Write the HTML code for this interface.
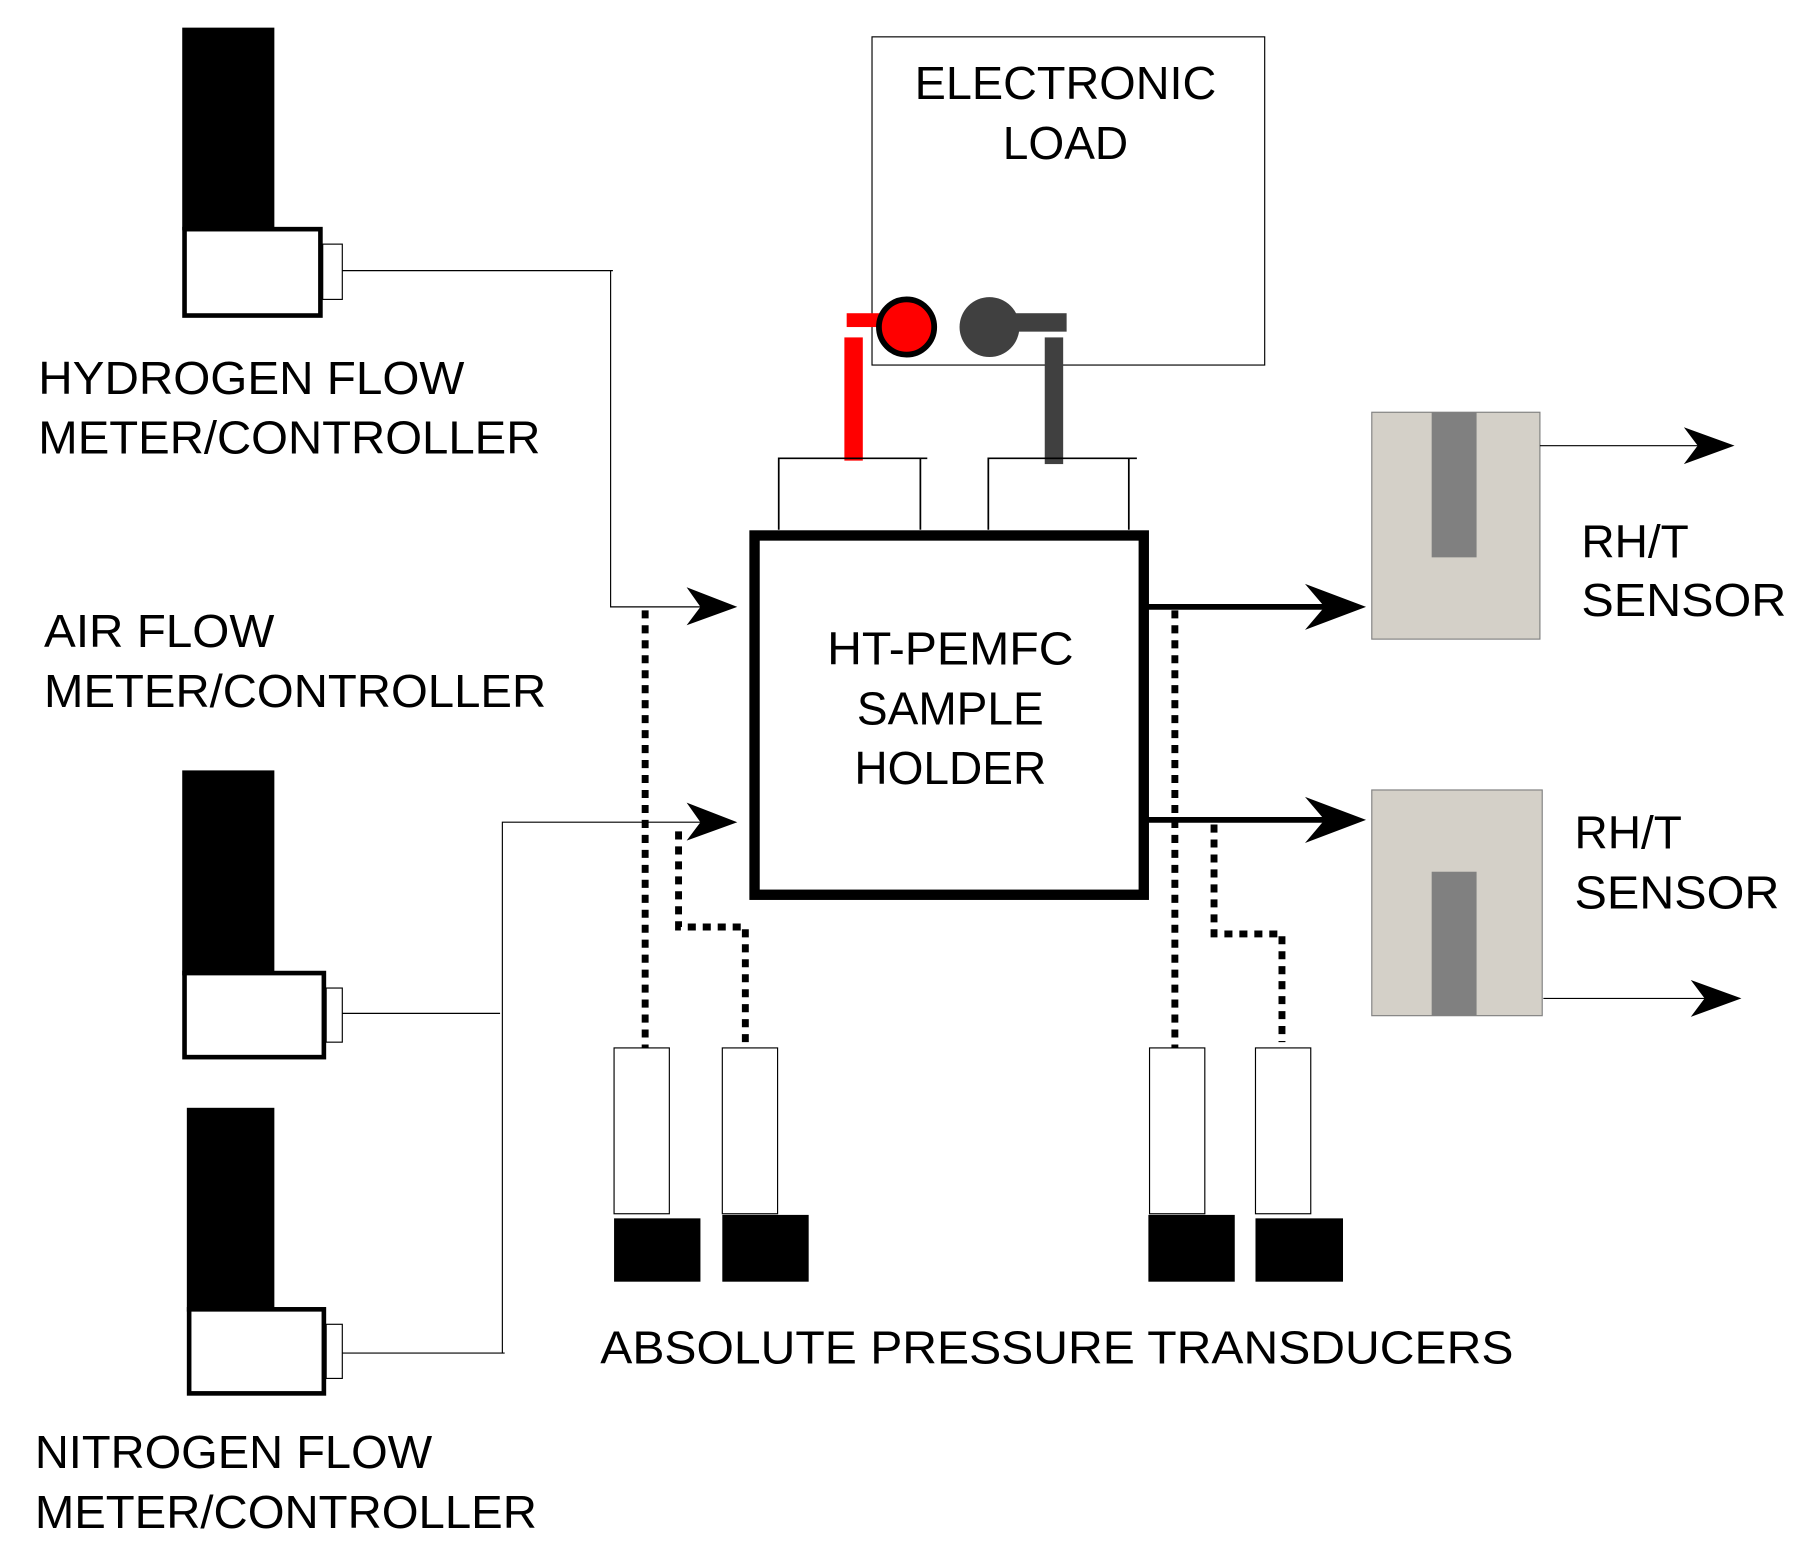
<!DOCTYPE html>
<html><head><meta charset="utf-8"><style>html,body{margin:0;padding:0;background:#fff}svg{display:block}</style></head>
<body>
<svg width="1797" height="1550" viewBox="0 0 1560 1346" xmlns="http://www.w3.org/2000/svg" font-family="Liberation Sans, sans-serif" font-size="40">
<rect width="1560" height="1346" fill="#fff"/>
<rect x="158" y="24" width="80" height="176" fill="#000"/>
<rect x="160" y="199" width="118" height="75" fill="#fff" stroke="#000" stroke-width="4"/>
<rect x="280" y="212" width="17" height="48" fill="#fff" stroke="#000" stroke-width="1"/>
<polyline points="297,235 532,235" fill="none" stroke="#000" stroke-width="1"/>
<polyline points="530,235 530,527 610,527" fill="none" stroke="#000" stroke-width="1"/>
<rect x="158" y="669" width="80" height="178" fill="#000"/>
<rect x="160" y="845" width="121" height="73" fill="#fff" stroke="#000" stroke-width="4"/>
<rect x="283" y="858" width="14" height="47" fill="#fff" stroke="#000" stroke-width="1"/>
<line x1="297" y1="880" x2="434" y2="880" stroke="#000" stroke-width="1"/>
<rect x="162" y="962" width="76" height="177" fill="#000"/>
<rect x="164" y="1137" width="117" height="73" fill="#fff" stroke="#000" stroke-width="4"/>
<rect x="283" y="1150" width="14" height="47" fill="#fff" stroke="#000" stroke-width="1"/>
<line x1="297" y1="1175" x2="438" y2="1175" stroke="#000" stroke-width="1"/>
<polyline points="436,1175 436,714 610,714" fill="none" stroke="#000" stroke-width="1"/>
<polygon points="640,527 596,510 608,527 596,543" fill="#000"/>
<polygon points="640,714 596,697 608,714 596,730" fill="#000"/>
<text x="33" y="342" textLength="370" lengthAdjust="spacingAndGlyphs">HYDROGEN FLOW</text>
<text x="33" y="394" textLength="436" lengthAdjust="spacingAndGlyphs">METER/CONTROLLER</text>
<text x="38" y="562" textLength="200" lengthAdjust="spacingAndGlyphs">AIR FLOW</text>
<text x="38" y="614" textLength="436" lengthAdjust="spacingAndGlyphs">METER/CONTROLLER</text>
<text x="30" y="1275" textLength="345" lengthAdjust="spacingAndGlyphs">NITROGEN FLOW</text>
<text x="30" y="1327" textLength="436" lengthAdjust="spacingAndGlyphs">METER/CONTROLLER</text>
<rect x="757" y="32" width="341" height="285" fill="none" stroke="#000" stroke-width="1"/>
<text x="925" y="86" text-anchor="middle" textLength="262" lengthAdjust="spacingAndGlyphs">ELECTRONIC</text>
<text x="925" y="138" text-anchor="middle">LOAD</text>
<rect x="735" y="272" width="35" height="12" fill="#f00"/>
<rect x="733" y="293" width="16" height="107" fill="#f00"/>
<circle cx="787" cy="284" r="24" fill="#f00" stroke="#000" stroke-width="5"/>
<rect x="860" y="272" width="66" height="16" fill="#404040"/>
<circle cx="859" cy="284" r="26" fill="#404040"/>
<rect x="907" y="293" width="16" height="110" fill="#404040"/>
<polyline points="676,460 676,398 805,398" fill="none" stroke="#000" stroke-width="1.5"/>
<line x1="799" y1="398" x2="799" y2="460" stroke="#000" stroke-width="1.5"/>
<polyline points="858,460 858,398 987,398" fill="none" stroke="#000" stroke-width="1.5"/>
<line x1="980" y1="398" x2="980" y2="460" stroke="#000" stroke-width="1.5"/>
<rect x="655" y="465" width="338" height="312" fill="#fff" stroke="#000" stroke-width="9"/>
<text x="825" y="577" text-anchor="middle" textLength="214" lengthAdjust="spacingAndGlyphs">HT-PEMFC</text>
<text x="825" y="629" text-anchor="middle">SAMPLE</text>
<text x="825" y="681" text-anchor="middle">HOLDER</text>
<line x1="997" y1="527" x2="1160" y2="527" stroke="#000" stroke-width="5"/>
<polygon points="1186,527 1133,507 1150,527 1133,547" fill="#000"/>
<line x1="997" y1="712" x2="1160" y2="712" stroke="#000" stroke-width="5"/>
<polygon points="1186,712 1133,692 1150,712 1133,732" fill="#000"/>
<rect x="1191" y="358" width="146" height="197" fill="#d4d0c8" stroke="#808080" stroke-width="1"/>
<rect x="1243" y="358" width="39" height="126" fill="#808080"/>
<line x1="1337" y1="387" x2="1490" y2="387" stroke="#000" stroke-width="1"/>
<polygon points="1506,387 1462,371 1474,387 1462,403" fill="#000"/>
<text x="1373" y="484">RH/T</text>
<text x="1373" y="535" textLength="178" lengthAdjust="spacingAndGlyphs">SENSOR</text>
<rect x="1191" y="686" width="148" height="196" fill="#d4d0c8" stroke="#808080" stroke-width="1"/>
<rect x="1243" y="757" width="39" height="125" fill="#808080"/>
<line x1="1340" y1="867" x2="1495" y2="867" stroke="#000" stroke-width="1"/>
<polygon points="1512,867 1468,851 1480,867 1468,883" fill="#000"/>
<text x="1367" y="737">RH/T</text>
<text x="1367" y="789" textLength="178" lengthAdjust="spacingAndGlyphs">SENSOR</text>
<g fill="none" stroke="#000" stroke-width="6" stroke-dasharray="7,6">
<line x1="560" y1="530" x2="560" y2="912"/>
<polyline points="589,722 589,805 647,805 647,905"/>
<line x1="1020" y1="530" x2="1020" y2="912"/>
<polyline points="1054,716 1054,811 1113,811 1113,905"/>
</g>
<g fill="#fff" stroke="#000" stroke-width="1">
<rect x="533" y="910" width="48" height="144"/>
<rect x="627" y="910" width="48" height="144"/>
<rect x="998" y="910" width="48" height="144"/>
<rect x="1090" y="910" width="48" height="144"/>
</g>
<rect x="533" y="1058" width="75" height="55" fill="#000"/>
<rect x="627" y="1055" width="75" height="58" fill="#000"/>
<rect x="997" y="1055" width="75" height="58" fill="#000"/>
<rect x="1090" y="1058" width="76" height="55" fill="#000"/>
<text x="521" y="1184" textLength="793" lengthAdjust="spacingAndGlyphs">ABSOLUTE PRESSURE TRANSDUCERS</text>
</svg>
</body></html>
